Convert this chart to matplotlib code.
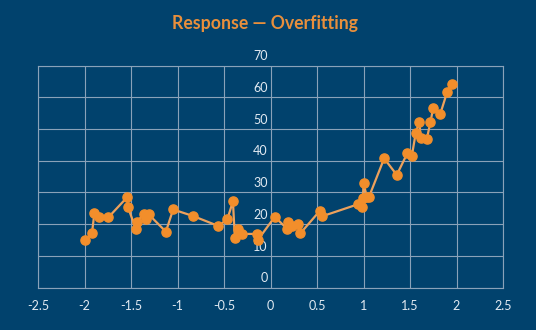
import numpy as np
import matplotlib.pyplot as plt

# Muestras de la respuesta (x, y), ordenadas por x
x_vals = [-1.990, -1.919, -1.894, -1.840, -1.744, -1.543, -1.533, -1.447, -1.436,
          -1.364, -1.340, -1.311, -1.125, -1.047, -0.829, -0.561, -0.464, -0.404,
          -0.383, -0.350, -0.311, -0.143, -0.136, 0.046, 0.179, 0.185, 0.233,
          0.295, 0.322, 0.528, 0.550, 0.946, 0.983, 0.994, 1.000, 1.036, 1.058,
          1.222, 1.358, 1.472, 1.520, 1.562, 1.600, 1.615, 1.680, 1.720, 1.749,
          1.824, 1.899, 1.947]
y_vals = [14.9, 17.3, 23.4, 22.3, 22.1, 28.4, 25.4, 18.3, 20.7,
          23.1, 21.5, 23.1, 17.6, 24.6, 22.5, 19.4, 21.5, 27.2,
          15.5, 18.4, 16.9, 16.9, 15.0, 22.3, 18.5, 20.7, 19.4,
          20.0, 17.1, 24.1, 22.4, 26.3, 25.4, 28.1, 32.9, 28.6, 28.5,
          40.7, 35.5, 42.4, 41.5, 48.8, 52.3, 47.1, 46.7, 52.2, 56.5,
          54.6, 61.6, 64.3]

x_ticks = [-2.5, -2, -1.5, -1, -0.5, 0, 0.5, 1, 1.5, 2, 2.5]
y_ticks = [0, 10, 20, 30, 40, 50, 60, 70]

bg = '#01426d'
grid_col = '#8aa2b9'
orange = '#f28e2b'
text_col = '#e2eaf2'

plt.rcParams['font.family'] = ['Lato', 'DejaVu Sans']

fig = plt.figure(figsize=(5.36, 3.30), dpi=100, facecolor=bg)
ax = fig.add_axes([38 / 536, 1 - 287.5 / 330, 465 / 536, 222 / 330])
ax.set_facecolor(bg)

ax.plot(x_vals, y_vals, color='#eda15c', lw=1.6, zorder=3)
ax.plot(x_vals, y_vals, 'o', color=orange, ms=6.6, mec=orange, zorder=4)

ax.set_xlim(-2.5, 2.5)
ax.set_ylim(0, 70)
ax.set_xticks(x_ticks)
ax.set_yticks(y_ticks)
ax.set_xticklabels([f'{t:g}' for t in x_ticks])
ax.set_yticklabels([])
ax.tick_params(axis='x', length=0, pad=9, labelsize=9, labelcolor=text_col)
ax.tick_params(axis='y', length=0)
ax.grid(True, color=grid_col, lw=0.8)
ax.set_axisbelow(True)
for s in ax.spines.values():
    s.set_color(grid_col)
    s.set_linewidth(0.8)

# etiquetas del eje y junto a x = 0, encima de cada línea
for t in y_ticks:
    ax.text(-0.03, t + 2.9, f'{t}', ha='right', va='center', fontsize=9,
            color=text_col, zorder=2)

fig.text(265 / 536, 1 - 23 / 330, 'Response — Overfitting', ha='center', va='center',
         fontsize=12.7, fontweight='bold', color='#e88f3c')

fig.savefig('out.png', dpi=100, facecolor=bg)
